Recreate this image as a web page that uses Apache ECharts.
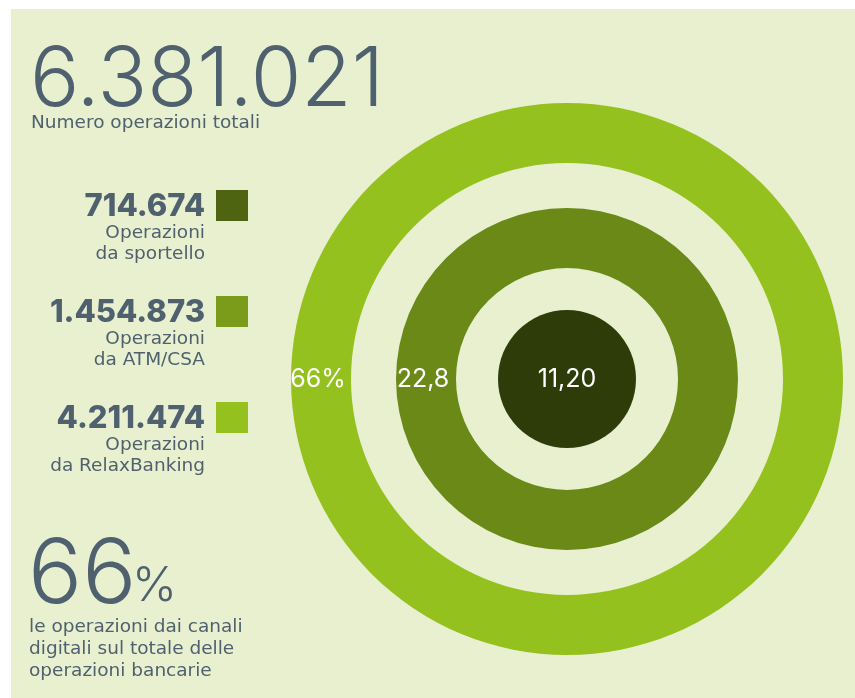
<!DOCTYPE html>
<html>
<head>
<meta charset="utf-8">
<title>Operazioni bancarie per canale</title>
<script src="https://cdn.jsdelivr.net/npm/echarts@6/dist/echarts.min.js"></script>
<style>
  html, body { margin: 0; padding: 0; background: #ffffff; }
  #chart { width: 855px; height: 698px; }
</style>
</head>
<body>
<div id="chart"></div>
<script>
// Channels, from the counter (innermost ring) to home banking (outer ring)
const channelLines = [
  ['Operazioni', 'da sportello'],
  ['Operazioni', 'da ATM/CSA'],
  ['Operazioni', 'da RelaxBanking']
];
const operations = [714674, 1454873, 4211474];
// Share of total operations, in percent
const shares = [11.20, 22.8, 66];
const shareDigits = [2, 1, 0];
const shareSuffix = ['', '', '%'];

const totalLabel = 'Numero operazioni totali';
const digitalShare = 66;
const digitalLines = [
  'le operazioni dai canali',
  'digitali sul totale delle',
  'operazioni bancarie'
];

// Styling
const FONT = 'Inter, "Noto Sans", "DejaVu Sans", sans-serif';
const BODY_FONT = '"DejaVu Sans", "Noto Sans", sans-serif';
const TEXT = '#4f616e';
const BG = '#e8f0d0';
const ringColors = ['#2e3c09', '#6a8916', '#95c11f'];
const swatchColors = ['#4e6410', '#7a9c1a', '#95c11f'];
const ringRadii = [[0, 69], [111, 171], [216, 276]];
const CENTER = [567, 379];

function itNumber(n) {
  return String(n).replace(/\B(?=(\d{3})+(?!\d))/g, '.');
}
function itShare(v, digits, suffix) {
  return v.toFixed(digits).replace('.', ',') + suffix;
}

const total = operations.reduce((a, b) => a + b, 0);

const chart = echarts.init(document.getElementById('chart'), null, { renderer: 'canvas' });

const series = shares.map((v, i) => ({
  type: 'pie',
  silent: true,
  center: CENTER,
  radius: ringRadii[i],
  startAngle: 0,
  clockwise: true,
  data: [{ value: v, name: channelLines[i].join(' ') }],
  itemStyle: { color: ringColors[i] },
  label: {
    show: true,
    position: i === 0 ? 'center' : 'inside',
    formatter: () => itShare(v, shareDigits[i], shareSuffix[i]),
    color: '#ffffff',
    fontFamily: FONT,
    fontSize: 25,
    fontWeight: 400
  },
  labelLine: { show: false },
  emphasis: { disabled: true },
  z: 2
}));

function text(x, y, str, font, align) {
  return {
    type: 'text', x: x, y: y, silent: true,
    style: { text: str, font: font, fill: TEXT, verticalAlign: 'middle', align: align || 'left' }
  };
}

const graphics = [
  { type: 'rect', z: -10, shape: { x: 11, y: 9, width: 844, height: 689 }, style: { fill: BG }, silent: true },
  text(30, 81.5, itNumber(total), '300 82px ' + FONT),
  text(31, 122.8, totalLabel, '400 18.5px ' + BODY_FONT),
  text(28, 575.8, String(digitalShare), '300 90px ' + FONT),
  text(132, 586.5, '%', '300 48px ' + FONT)
];

digitalLines.forEach((line, k) => {
  graphics.push(text(29, 627.2 + k * 22, line, '400 18.5px ' + BODY_FONT));
});

const blockTop = [190, 296, 402];
operations.forEach((n, i) => {
  const top = blockTop[i];
  graphics.push({
    type: 'rect', silent: true,
    shape: { x: 216, y: top, width: 32, height: 31 }, style: { fill: swatchColors[i] }
  });
  graphics.push(text(205, top + 16.8, itNumber(n), '800 31px ' + FONT, 'right'));
  channelLines[i].forEach((line, k) => {
    graphics.push(text(205, top + 43.3 + k * 21, line, '400 18.5px ' + BODY_FONT, 'right'));
  });
});

chart.setOption({
  animation: false,
  backgroundColor: '#ffffff',
  graphic: graphics,
  series: series
});
</script>
</body>
</html>
